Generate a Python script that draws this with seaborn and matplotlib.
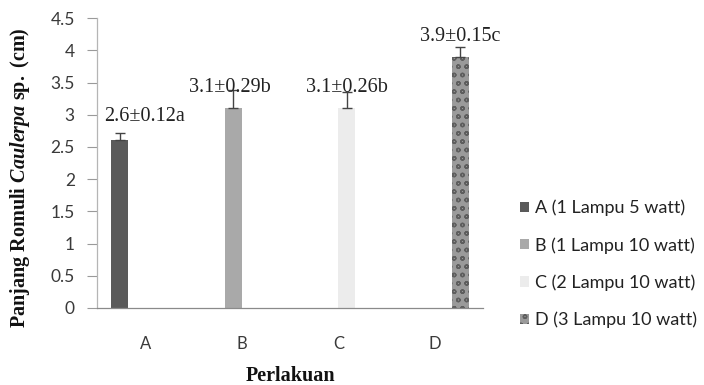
import matplotlib
matplotlib.use("Agg")
import matplotlib.pyplot as plt
import seaborn as sns
import pandas as pd
import numpy as np
from matplotlib.patches import Patch

categories = ["A", "B", "C", "D"]
series = ["A (1 Lampu 5 watt)", "B (1 Lampu 10 watt)", "C (2 Lampu 10 watt)", "D (3 Lampu 10 watt)"]
values = [2.6, 3.1, 3.1, 3.9]
errors = [0.12, 0.29, 0.26, 0.15]
labels = ["2.6\u00b10.12a", "3.1\u00b10.29b", "3.1\u00b10.26b", "3.9\u00b10.15c"]
yticks = [0, 0.5, 1, 1.5, 2, 2.5, 3, 3.5, 4, 4.5]

colors = ["#5a5a5a", "#a9a9a9", "#ececec", "#9a9a9a"]
hatches = [None, None, None, "oo"]
hatch_cols = [None, None, "#d0d0d0", "#5e5e5e"]
label_dx = [0.26, -0.04, 0.0, 0.0]
label_pad = [0.25, 0.03, 0.06, 0.17]

sns.set_theme(style="white")
plt.rcParams["font.family"] = ["Lato", "DejaVu Sans"]
plt.rcParams["mathtext.fontset"] = "custom"
plt.rcParams["mathtext.rm"] = "Liberation Serif:bold"
plt.rcParams["mathtext.bf"] = "Liberation Serif:bold"
plt.rcParams["mathtext.it"] = "Liberation Serif:bold:italic"
plt.rcParams["mathtext.bfit"] = "Liberation Serif:bold:italic"

df = pd.DataFrame({"cat": categories, "ser": series, "val": values})

fig = plt.figure(figsize=(7.04, 3.85), dpi=100)
ax = fig.add_axes([0.138, 0.2, 0.548, 0.753])

sns.barplot(data=df, x="cat", y="val", hue="ser", order=categories, hue_order=series,
            palette=colors, dodge=True, width=0.71, ax=ax, legend=False,
            saturation=1, linewidth=0, errorbar=None)

bars = [p for p in ax.patches if p.get_height() > 0]
bars.sort(key=lambda p: p.get_x())
for i, p in enumerate(bars):
    if hatches[i]:
        p.set_hatch(hatches[i])
        p.set_edgecolor(hatch_cols[i])
        p.set_linewidth(0)

xs = [p.get_x() + p.get_width() / 2 for p in bars]
ax.errorbar(xs, values, yerr=[np.zeros(len(values)), errors], fmt="none",
            ecolor="#444444", elinewidth=1.0, capsize=3.5, capthick=1.0)

for i in range(len(values)):
    ax.text(xs[i] + label_dx[i], values[i] + errors[i] + label_pad[i], labels[i],
            ha="center", va="center", fontsize=14.5, family="Liberation Serif", color="#222222")

ax.set_xlim(-0.5, 3.5)
ax.set_ylim(0, 4.5)
ax.set_yticks(yticks)
ax.set_yticklabels([f"{t:g}" for t in yticks], fontsize=12.5, color="#3a3a3a")
ax.tick_params(axis="y", left=True, length=7, width=0.8, color="#9a9a9a", pad=9)
ax.tick_params(axis="x", bottom=False, pad=14, labelsize=12, labelcolor="#3a3a3a")
for s in ["top", "right"]:
    ax.spines[s].set_visible(False)
ax.spines["left"].set_color("#b5b5b5")
ax.spines["bottom"].set_color("#8a8a8a")
ax.spines["left"].set_linewidth(0.9)
ax.spines["bottom"].set_linewidth(0.9)

ax.set_xlabel("Perlakuan", family="Liberation Serif", fontweight="bold", fontsize=14.5,
              color="#111111")
ax.xaxis.set_label_coords(0.5, -0.2)
ax.set_ylabel(r"$\mathrm{Panjang\ Romuli}\ \mathbfit{Caulerpa}\ \mathrm{sp.\ (cm)}$",
              fontsize=14.5, color="#111111")
ax.yaxis.set_label_coords(-0.17, 0.45)

handles = []
for i in range(len(series)):
    h = Patch(facecolor=colors[i], edgecolor=hatch_cols[i] if hatches[i] else colors[i],
              hatch=hatches[i], linewidth=0)
    handles.append(h)
leg = fig.legend(handles=handles, labels=series, loc="upper left",
                 bbox_to_anchor=(0.728, 0.5), frameon=False, fontsize=13,
                 handlelength=0.5, handleheight=0.5, handletextpad=0.35,
                 labelspacing=1.15, borderaxespad=0)
for t in leg.get_texts():
    t.set_color("#222222")

fig.savefig("out.png", dpi=100)
